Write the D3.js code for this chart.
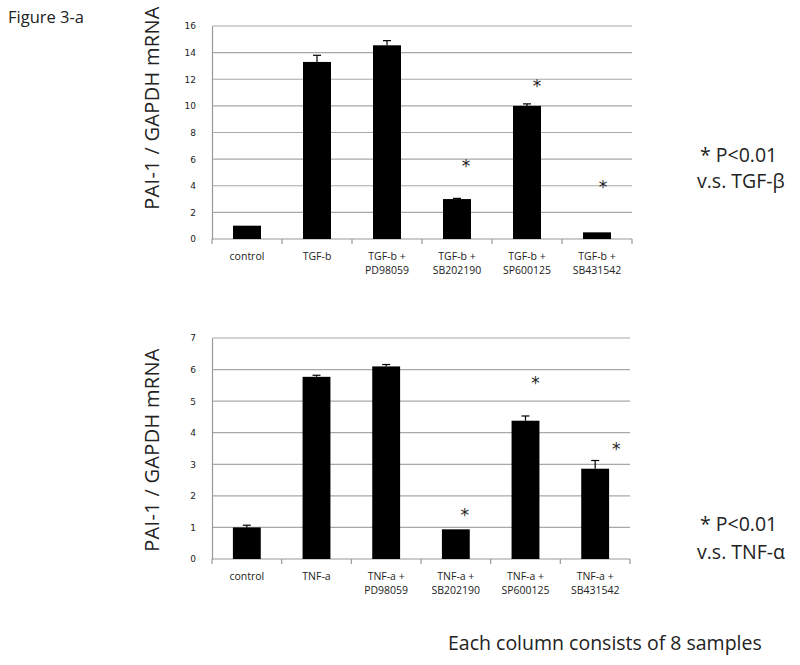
<!DOCTYPE html>
<html>
<head>
<meta charset="utf-8">
<script src="https://cdn.jsdelivr.net/npm/d3@7"></script>
<style>
  body { margin: 0; background: #fff; }
  text { font-family: "Open Sans", sans-serif; fill: #222; }
</style>
</head>
<body>
<svg id="fig" width="800" height="665"></svg>
<script>
// DATA
// top panel (TGF-b)
var tgfLabels = [["control"], ["TGF-b"], ["TGF-b +", "PD98059"], ["TGF-b +", "SB202190"], ["TGF-b +", "SP600125"], ["TGF-b +", "SB431542"]];
var tgfValues = [1.0, 13.3, 14.55, 3.0, 10.0, 0.5];
var tgfErrors = [0.0, 0.5, 0.35, 0.05, 0.15, 0.0];
var tgfStars = [null, null, null, 5.7, 11.7, 4.1];
var tgfTicks = [0, 2, 4, 6, 8, 10, 12, 14, 16];

// bottom panel (TNF-a)
var tnfLabels = [["control"], ["TNF-a"], ["TNF-a +", "PD98059"], ["TNF-a +", "SB202190"], ["TNF-a +", "SP600125"], ["TNF-a +", "SB431542"]];
var tnfValues = [1.0, 5.77, 6.1, 0.94, 4.38, 2.86];
var tnfErrors = [0.07, 0.05, 0.06, 0.0, 0.15, 0.26];
var tnfStars = [null, null, null, 1.5, 5.66, 3.59];
var tnfTicks = [0, 1, 2, 3, 4, 5, 6, 7];

var svg = d3.select("#fig");

// draws one bar panel
var drawPanel = function(opt) {
  var g = svg.append("g");
  var idx = d3.range(opt.values.length);

  var x = d3.scaleBand().domain(idx).range([opt.x0, opt.x1]).paddingInner(0.6).paddingOuter(0.3);
  var band = d3.scaleBand().domain(idx).range([opt.x0, opt.x1]);
  var y = d3.scaleLinear().domain([0, opt.max]).range([opt.y0, opt.y1]);

  // gridlines
  g.selectAll("line.grid").data(opt.ticks.filter(function(t){ return t > 0; }))
    .enter().append("line")
    .attr("x1", opt.x0).attr("x2", opt.x1)
    .attr("y1", function(d){ return y(d); }).attr("y2", function(d){ return y(d); })
    .attr("stroke", "#a8a8a8").attr("stroke-width", 1.2);

  // y axis
  var yAxis = d3.axisLeft(y).tickValues(opt.ticks).tickFormat(d3.format("d")).tickSize(0).tickPadding(16);
  var ya = g.append("g").attr("transform", "translate(" + opt.x0 + ",0)").call(yAxis);
  ya.select(".domain").attr("stroke", "#999").attr("stroke-width", 1.2);
  ya.selectAll("text").style("font-family", "'DejaVu Sans', sans-serif").style("font-size", "9px").attr("fill", "#333");

  // x axis line + separators
  g.append("line").attr("x1", opt.x0).attr("x2", opt.x1).attr("y1", y(0)).attr("y2", y(0))
    .attr("stroke", "#999").attr("stroke-width", 1.2);
  g.selectAll("line.sep").data(d3.range(opt.values.length + 1))
    .enter().append("line")
    .attr("x1", function(d){ return opt.x0 + d * band.step(); })
    .attr("x2", function(d){ return opt.x0 + d * band.step(); })
    .attr("y1", y(0)).attr("y2", y(0) + 5)
    .attr("stroke", "#999").attr("stroke-width", 1.2);

  // error bars (upper only)
  idx.forEach(function(i) {
    if (opt.errors[i] <= 0) return;
    var cx = x(i) + x.bandwidth() / 2;
    g.append("line").attr("x1", cx).attr("x2", cx)
      .attr("y1", y(opt.values[i])).attr("y2", y(opt.values[i] + opt.errors[i]))
      .attr("stroke", "#000").attr("stroke-width", 1.2);
    g.append("line").attr("x1", cx - 4).attr("x2", cx + 4)
      .attr("y1", y(opt.values[i] + opt.errors[i])).attr("y2", y(opt.values[i] + opt.errors[i]))
      .attr("stroke", "#000").attr("stroke-width", 1.2);
  });

  // bars
  g.selectAll("rect").data(opt.values).enter().append("rect")
    .attr("x", function(d, i){ return x(i); })
    .attr("width", x.bandwidth())
    .attr("y", function(d){ return y(d); })
    .attr("height", function(d){ return y(0) - y(d); })
    .attr("fill", "#000");

  // asterisks
  idx.forEach(function(i) {
    if (opt.stars[i] === null) return;
    g.append("text")
      .attr("x", x(i) + x.bandwidth() / 2 + opt.starDx[i])
      .attr("y", y(opt.stars[i]) + 9)
      .attr("text-anchor", "middle")
      .style("font-family", "'DejaVu Sans', sans-serif")
      .style("font-size", "17px")
      .attr("fill", "#222")
      .text("*");
  });

  // category labels
  idx.forEach(function(i) {
    var t = g.append("text")
      .attr("x", band(i) + band.bandwidth() / 2)
      .attr("y", y(0) + 21)
      .attr("text-anchor", "middle")
      .style("font-size", "10.5px")
      .attr("fill", "#333");
    opt.labels[i].forEach(function(s, k) {
      t.append("tspan").attr("x", band(i) + band.bandwidth() / 2).attr("dy", k === 0 ? 0 : 14).text(s);
    });
  });

  // y title
  g.append("text")
    .attr("transform", "translate(" + opt.titleX + "," + opt.titleY + ") rotate(-90)")
    .attr("text-anchor", "middle")
    .style("font-size", "20px")
    .style("letter-spacing", "0.3px")
    .attr("fill", "#222")
    .text("PAI-1 / GAPDH mRNA");
};

drawPanel({
  values: tgfValues, errors: tgfErrors, stars: tgfStars, labels: tgfLabels, ticks: tgfTicks,
  starDx: [0, 0, 0, 9, 10, 6],
  max: 16, x0: 212, x1: 632, y0: 239, y1: 26, titleX: 159, titleY: 108
});

drawPanel({
  values: tnfValues, errors: tnfErrors, stars: tnfStars, labels: tnfLabels, ticks: tnfTicks,
  starDx: [0, 0, 0, 9, 10, 21],
  max: 7, x0: 212, x1: 630, y0: 559, y1: 338, titleX: 159, titleY: 450
});

// free text
svg.append("text").attr("x", 8).attr("y", 23).style("font-size", "16.5px").text("Figure 3-a");

svg.append("text").attr("x", 700).attr("y", 162).style("font-size", "19.5px").text("* P<0.01");
svg.append("text").attr("x", 697).attr("y", 188).style("font-size", "19.5px").text("v.s. TGF-\u03B2");

svg.append("text").attr("x", 700).attr("y", 531).style("font-size", "19.5px").text("* P<0.01");
svg.append("text").attr("x", 697).attr("y", 559).style("font-size", "19.5px").text("v.s. TNF-\u03B1");

svg.append("text").attr("x", 448).attr("y", 650).style("font-size", "19.5px").text("Each column consists of 8 samples");
</script>
</body>
</html>
